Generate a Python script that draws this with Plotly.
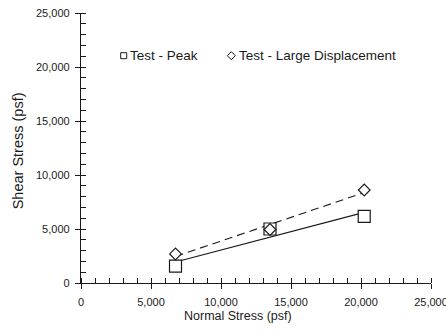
import numpy as np
import plotly.graph_objects as go

# Data
normal_stress = [6750, 13500, 20230]
peak_shear = [1570, 5000, 6160]
large_disp_shear = [2690, 4950, 8610]

x_ticks = [0, 5000, 10000, 15000, 20000, 25000]
y_ticks = [0, 5000, 10000, 15000, 20000, 25000]
tick_text = ["0", "5,000", "10,000", "15,000", "20,000", "25,000"]

peak_name = "Test - Peak"
ld_name = "Test - Large Displacement"
x_title = "Normal Stress (psf)"
y_title = "Shear Stress (psf)"

FONT = "Liberation Sans, Arial, sans-serif"
INK = "#1a1a1a"

# Linear envelopes fitted to the test data
xs = np.array(normal_stress, dtype=float)
pk_fit = np.polyfit(xs, np.array(peak_shear, float), 1)
ld_fit = np.polyfit(xs, np.array(large_disp_shear, float), 1)
x_line = [xs.min(), xs.max()]

fig = go.Figure()
fig.add_trace(go.Scatter(x=x_line, y=list(np.polyval(pk_fit, x_line)), mode="lines",
                         line=dict(color=INK, width=1.1), showlegend=False, hoverinfo="skip"))
fig.add_trace(go.Scatter(x=x_line, y=list(np.polyval(ld_fit, x_line)), mode="lines",
                         line=dict(color=INK, width=1.1, dash="8px,5px"), showlegend=False, hoverinfo="skip"))
fig.add_trace(go.Scatter(x=normal_stress, y=peak_shear, mode="markers", name=peak_name,
                         marker=dict(symbol="square", size=12, color="white",
                                     line=dict(color=INK, width=1.2)), showlegend=False))
fig.add_trace(go.Scatter(x=normal_stress, y=large_disp_shear, mode="markers", name=ld_name,
                         marker=dict(symbol="diamond", size=9, color="white",
                                     line=dict(color=INK, width=1.2)), showlegend=False))

L, R, T, B = 81, 15, 13, 48
W, H = 446, 331
pw, ph = W - L - R, H - T - B

def px(x):
    return (x - L) / pw

def py(y):
    return (H - B - y) / ph

# Legend drawn as shapes + text
shapes = [
    dict(type="rect", xref="paper", yref="paper", xsizemode="pixel", ysizemode="pixel",
         xanchor=px(123.7), yanchor=py(55.7), x0=-3, x1=3, y0=-3, y1=3,
         line=dict(color=INK, width=1), fillcolor="white"),
    dict(type="path", xref="paper", yref="paper", xsizemode="pixel", ysizemode="pixel",
         xanchor=px(231.3), yanchor=py(55.7), path="M -4 0 L 0 4 L 4 0 L 0 -4 Z",
         line=dict(color=INK, width=1), fillcolor="white"),
]
annotations = [
    dict(text=peak_name, xref="paper", yref="paper", x=px(127.5), y=py(55.7), xanchor="left",
         yanchor="middle", showarrow=False, font=dict(family=FONT, size=13.5, color=INK)),
    dict(text=ld_name, xref="paper", yref="paper", x=px(236.5), y=py(55.7), xanchor="left",
         yanchor="middle", showarrow=False, font=dict(family=FONT, size=13.5, color=INK)),
    dict(text=x_title, xref="paper", yref="paper", x=px(238), y=py(316), xanchor="center",
         yanchor="middle", showarrow=False, font=dict(family=FONT, size=12.5, color=INK)),
    dict(text=y_title, xref="paper", yref="paper", x=px(17.5), y=py(150.8), xanchor="center",
         yanchor="middle", showarrow=False, textangle=-90, font=dict(family=FONT, size=14.5, color=INK)),
]

axis_common = dict(showgrid=False, zeroline=False, showline=True, linecolor=INK, linewidth=1.3,
                   ticks="outside", ticklen=5, tickwidth=1.2, tickcolor=INK,
                   tickfont=dict(family=FONT, size=11, color=INK), automargin=False,
                   tickmode="array", ticktext=tick_text, ticklabeloverflow="allow",
                   minor=dict(ticks="inside", ticklen=5, tickwidth=1.1, tickcolor=INK, dtick=1000,
                              showgrid=False))

fig.update_xaxes(range=[0, 25000], tickvals=x_ticks, ticklabelstandoff=4, **axis_common)
fig.update_yaxes(range=[0, 25000], tickvals=y_ticks, ticklabelstandoff=3, **axis_common)

fig.update_layout(width=W, height=H, margin=dict(l=L, r=R, t=T, b=B, autoexpand=False),
                  paper_bgcolor="white", plot_bgcolor="white",
                  shapes=shapes, annotations=annotations, showlegend=False)

fig.write_html("out.html")
